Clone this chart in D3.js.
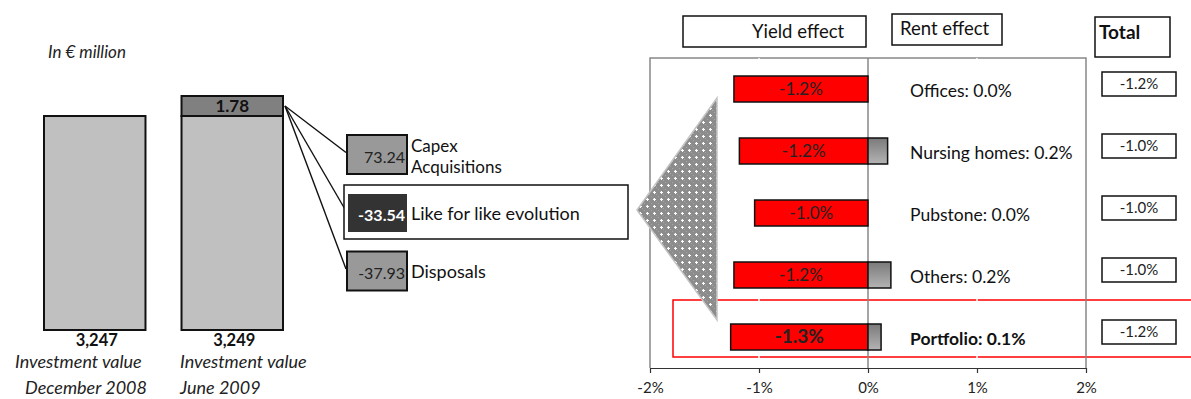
<!DOCTYPE html>
<html>
<head>
<meta charset="utf-8">
<script src="https://cdn.jsdelivr.net/npm/d3@7"></script>
<style>
  html, body { margin: 0; padding: 0; background: #fff; }
  svg { display: block; font-family: Lato, "Open Sans", sans-serif; }
</style>
</head>
<body>
<svg id="chart" width="1191" height="399"></svg>
<script>
// ---- Investment value bridge (left) ----
const periods = ["December 2008", "June 2009"];
const investmentValues = [3247, 3249];
const periodChange = 1.78;
const bridgeItems = ["Capex|Acquisitions", "Like for like evolution", "Disposals"];
const bridgeValues = [73.24, -33.54, -37.93];

// ---- Valuation change by segment (right) ----
const segments = ["Offices", "Nursing homes", "Pubstone", "Others", "Portfolio"];
const yieldEffect = [-1.23, -1.18, -1.04, -1.23, -1.26];
const rentEffect = [0.0, 0.18, 0.0, 0.21, 0.12];
const totalEffect = [-1.2, -1.0, -1.0, -1.0, -1.2];
const xTicks = [-2, -1, 0, 1, 2];

const svg = d3.select("#chart");
// plain hyphen as the minus sign
const loc = d3.formatLocale({ decimal: ".", thousands: ",", grouping: [3], currency: ["", "€"], minus: "-" });
const fmt1 = loc.format(".1f");
const fmt2 = loc.format(".2f");
const fmtInt = loc.format(",");
const pct1 = v => fmt1(v) + "%";

const defs = svg.append("defs");
const pat = defs.append("pattern").attr("id", "dotgrid")
  .attr("width", 7).attr("height", 7).attr("patternUnits", "userSpaceOnUse");
pat.append("rect").attr("width", 7).attr("height", 7).attr("fill", "#8c8c8c");
pat.append("rect").attr("x", 0).attr("y", 0).attr("width", 1).attr("height", 1).attr("fill", "#a6a6a6");
pat.append("rect").attr("x", 2).attr("y", 2).attr("width", 1).attr("height", 1).attr("fill", "#a6a6a6");
pat.append("rect").attr("x", 5).attr("y", 5).attr("width", 1).attr("height", 1).attr("fill", "#a6a6a6");
pat.append("rect").attr("x", 3).attr("y", 2).attr("width", 1).attr("height", 3).attr("fill", "#fff");
pat.append("rect").attr("x", 2).attr("y", 3).attr("width", 3).attr("height", 1).attr("fill", "#fff");

const grad = defs.append("linearGradient").attr("id", "rentGrad")
  .attr("x1", 0).attr("y1", 0).attr("x2", 0).attr("y2", 1);
grad.append("stop").attr("offset", "0%").attr("stop-color", "#7a7a7a");
grad.append("stop").attr("offset", "100%").attr("stop-color", "#b4b4b4");

// ================= Left: investment value columns =================
const xL = d3.scaleBand().domain(periods).range([44, 283]).paddingInner(0.262);
const base2 = investmentValues[1] - periodChange;
// broken scale: the change segment on top is magnified
const yL = d3.scaleLinear()
  .domain([0, base2, investmentValues[1]])
  .range([330, 116, 96]);

svg.append("text").attr("x", 48).attr("y", 58)
  .attr("font-size", 17).attr("font-style", "italic").attr("fill", "#222")
  .text("In € million");

const left = svg.append("g");
left.append("rect")
  .attr("x", xL(periods[0])).attr("y", yL(investmentValues[0]))
  .attr("width", xL.bandwidth()).attr("height", yL(0) - yL(investmentValues[0]))
  .attr("fill", "#c0c0c0").attr("stroke", "#111").attr("stroke-width", 2);
left.append("rect")
  .attr("x", xL(periods[1])).attr("y", yL(base2))
  .attr("width", xL.bandwidth()).attr("height", yL(0) - yL(base2))
  .attr("fill", "#c0c0c0").attr("stroke", "#111").attr("stroke-width", 2);
left.append("rect")
  .attr("x", xL(periods[1])).attr("y", yL(investmentValues[1]))
  .attr("width", xL.bandwidth()).attr("height", yL(base2) - yL(investmentValues[1]))
  .attr("fill", "#808080").attr("stroke", "#111").attr("stroke-width", 2);
left.append("text")
  .attr("x", xL(periods[1]) + xL.bandwidth() / 2)
  .attr("y", (yL(base2) + yL(investmentValues[1])) / 2 + 6)
  .attr("text-anchor", "middle").attr("font-size", 17).attr("font-weight", "bold").attr("fill", "#111")
  .text(fmt2(periodChange));

periods.forEach((p, i) => {
  const cx = xL(p) + xL.bandwidth() / 2;
  left.append("text").attr("x", cx + 2).attr("y", 346)
    .attr("text-anchor", "middle").attr("font-size", 16.5).attr("font-weight", "bold").attr("fill", "#111")
    .text(fmtInt(investmentValues[i]));
  left.append("text").attr("x", i === 0 ? 15 : 180).attr("y", 368)
    .attr("font-size", 18).attr("font-style", "italic").attr("fill", "#222")
    .text("Investment value");
  left.append("text").attr("x", i === 0 ? 25 : 180).attr("y", 394)
    .attr("font-size", 18).attr("font-style", "italic").attr("fill", "#222")
    .text(p);
});

// ================= Middle: breakdown of the change =================
const boxX = 347, boxW = 60, boxH = 39;
const boxCenters = [154.5, 213, 271];
const origin = [xL(periods[1]) + xL.bandwidth() + 2, (yL(base2) + yL(investmentValues[1])) / 2];

const mid = svg.append("g");
bridgeItems.forEach((name, i) => {
  mid.append("line")
    .attr("x1", origin[0]).attr("y1", origin[1])
    .attr("x2", boxX - 1).attr("y2", boxCenters[i] - 2)
    .attr("stroke", "#111").attr("stroke-width", 1.4);
});
// highlighted frame around the like-for-like item
mid.append("rect").attr("x", 344).attr("y", 185).attr("width", 284).attr("height", 54)
  .attr("fill", "#fff").attr("stroke", "#111").attr("stroke-width", 1.5);

bridgeItems.forEach((name, i) => {
  const cy = boxCenters[i];
  const dark = i === 1;
  mid.append("rect")
    .attr("x", boxX + (dark ? 1 : 0)).attr("y", cy - (dark ? 19 : boxH / 2))
    .attr("width", dark ? 59 : boxW).attr("height", dark ? 38 : boxH)
    .attr("fill", dark ? "#333" : "#999")
    .attr("stroke", dark ? "none" : "#111").attr("stroke-width", 2);
  mid.append("text").attr("x", boxX + boxW - 2).attr("y", cy + 8)
    .attr("text-anchor", "end").attr("font-size", 16)
    .attr("font-weight", dark ? "bold" : "normal")
    .attr("fill", dark ? "#fff" : "#222")
    .text(fmt2(bridgeValues[i]));
  const lines = name.split("|");
  lines.forEach((ln, j) => {
    mid.append("text").attr("x", 411)
      .attr("y", lines.length > 1 ? cy - 2.5 + j * 20.5 : cy + 7)
      .attr("font-size", lines.length > 1 ? 17 : 18).attr("fill", "#111").text(ln);
  });
});

// ================= Right: yield / rent effect by segment =================
const x = d3.scaleLinear().domain([-2, 2]).range([650, 1086]);
const y = d3.scaleBand().domain(segments).range([58, 368]);
const barH = 26;
const right = svg.append("g");

// total-portfolio highlight
right.append("rect").attr("x", 673).attr("y", 300).attr("width", 530).attr("height", 57)
  .attr("fill", "none").attr("stroke", "#f00").attr("stroke-width", 1.5);

// plot frame
right.append("path")
  .attr("d", `M${x(-2)},${y.range()[1]}V${y.range()[0]}H${x(2)}V${y.range()[1]}`)
  .attr("fill", "none").attr("stroke", "#888").attr("stroke-width", 1.5);
right.append("line").attr("x1", x(0)).attr("x2", x(0)).attr("y1", 58).attr("y2", 368)
  .attr("stroke", "#888").attr("stroke-width", 1.5);
right.selectAll(".wgrid").data([-1, 1]).join("line")
  .attr("x1", d => x(d)).attr("x2", d => x(d)).attr("y1", 58).attr("y2", 368)
  .attr("stroke", "#fff").attr("stroke-width", 1.5);

// pointer wedge linking the breakdown to the chart
right.append("path").attr("d", "M717,98L637,210L717,320Z")
  .attr("fill", "url(#dotgrid)").attr("stroke", "#c4c4c4").attr("stroke-width", 1.5);

// x axis
const axis = right.append("g").attr("transform", "translate(0,368)")
  .call(d3.axisBottom(x).tickValues(xTicks).tickSize(5).tickSizeOuter(0).tickFormat(d => d + "%"));
axis.select(".domain").attr("stroke", "#333").attr("stroke-width", 1.2);
axis.selectAll(".tick line").attr("stroke", "#333").attr("stroke-width", 1.2);
axis.selectAll(".tick text").attr("font-family", "Lato, sans-serif").attr("font-size", 15)
  .attr("fill", "#222").attr("dy", "1.15em");

// bars
segments.forEach((s, i) => {
  const cy = y(s) + y.bandwidth() / 2;
  right.append("rect")
    .attr("x", x(yieldEffect[i])).attr("y", cy - barH / 2)
    .attr("width", x(0) - x(yieldEffect[i])).attr("height", barH)
    .attr("fill", "#ff0000").attr("stroke", "#111").attr("stroke-width", 1.5);
  if (rentEffect[i] > 0) {
    right.append("rect")
      .attr("x", x(0)).attr("y", cy - barH / 2)
      .attr("width", x(rentEffect[i]) - x(0)).attr("height", barH)
      .attr("fill", "url(#rentGrad)").attr("stroke", "#111").attr("stroke-width", 1.5);
  }
  const bold = s === "Portfolio";
  right.append("text")
    .attr("x", (x(yieldEffect[i]) + x(0)) / 2).attr("y", cy + 6)
    .attr("text-anchor", "middle").attr("font-size", bold ? 19 : 17)
    .attr("font-weight", bold ? "bold" : "normal").attr("fill", "#222")
    .text(pct1(yieldEffect[i]));
  right.append("text")
    .attr("x", 910).attr("y", cy + 8)
    .attr("font-size", 17.5).attr("font-weight", bold ? "bold" : "normal").attr("fill", "#111")
    .text(`${s}: ${pct1(rentEffect[i])}`);

  // total column
  const ty = cy - 5;
  right.append("rect").attr("x", 1102).attr("y", ty - 12).attr("width", 74).attr("height", 24)
    .attr("fill", "#fff").attr("stroke", "#111").attr("stroke-width", 1.5);
  right.append("text").attr("x", 1139).attr("y", ty + 5)
    .attr("text-anchor", "middle").attr("font-size", 15).attr("fill", "#222")
    .text(pct1(totalEffect[i]));
});

// column headers
const hdr = svg.append("g");
hdr.append("rect").attr("x", 683).attr("y", 16).attr("width", 183).attr("height", 31)
  .attr("fill", "#fff").attr("stroke", "#111").attr("stroke-width", 1.5);
hdr.append("text").attr("x", 752).attr("y", 38).attr("font-size", 18.5).attr("fill", "#111").text("Yield effect");
hdr.append("rect").attr("x", 892).attr("y", 14).attr("width", 110).attr("height", 31)
  .attr("fill", "#fff").attr("stroke", "#111").attr("stroke-width", 1.5);
hdr.append("text").attr("x", 900).attr("y", 35).attr("font-size", 18.5).attr("fill", "#111").text("Rent effect");
hdr.append("rect").attr("x", 1095).attr("y", 17).attr("width", 75).attr("height", 40)
  .attr("fill", "#fff").attr("stroke", "#111").attr("stroke-width", 1.5);
hdr.append("text").attr("x", 1099).attr("y", 39).attr("font-size", 19).attr("font-weight", "bold")
  .attr("fill", "#111").text("Total");
</script>
</body>
</html>
